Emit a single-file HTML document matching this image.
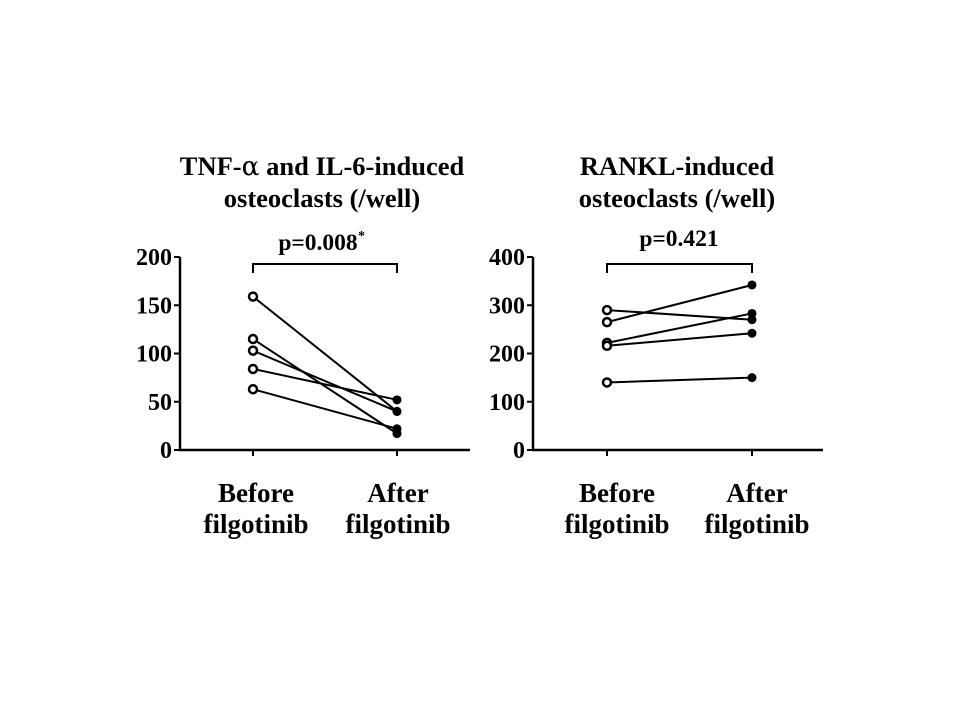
<!DOCTYPE html>
<html><head><meta charset="utf-8"><style>
body{margin:0;background:#fff;width:960px;height:720px;overflow:hidden}
svg text{font-family:"Liberation Serif",serif;font-weight:bold;fill:#000}
</style></head><body>
<svg id="c" width="960" height="720"></svg>
<script>
const leftTicks=[0,50,100,150,200];
const leftBefore=[159,115,103,84,63];
const leftAfter=[40,17,40,52,22];
const rightTicks=[0,100,200,300,400];
const rightBefore=[290,265,222,216,140];
const rightAfter=[270,342,283,242,150];
const NS="http://www.w3.org/2000/svg";
const svg=document.getElementById('c');
function el(t,a,txt){const e=document.createElementNS(NS,t);for(const k in a)e.setAttribute(k,a[k]);if(txt!==undefined)e.textContent=txt;svg.appendChild(e);return e;}
function panel(p){
  const y=v=>450-v/p.max*193;
  const ax=el('line',{x1:p.ax,y1:257,x2:p.ax,y2:451,stroke:'#000','stroke-width':2.5});
  
  const xa=el('line',{x1:p.ax-1,y1:450,x2:p.ax+290,y2:450,stroke:'#000','stroke-width':2.5});
  
  p.ticks.forEach(t=>{
    const tk=el('line',{x1:p.ax-6,y1:y(t),x2:p.ax,y2:y(t),stroke:'#000','stroke-width':2});
    
    const tl=el('text',{x:p.ax-8,y:y(t)+8,'text-anchor':'end','font-size':24},String(t));
    
  });
  [p.x1,p.x2].forEach(x=>{const tk=el('line',{x1:x,y1:450,x2:x,y2:456,stroke:'#000','stroke-width':2});
    });
  const br=el('path',{d:`M${p.x1} 273V264H${p.x2}V273`,fill:'none',stroke:'#000','stroke-width':2});
  
  p.before.forEach((b,i)=>{
    const a=p.after[i];
    const ln=el('line',{x1:p.x1,y1:y(b),x2:p.x2,y2:y(a),stroke:'#000','stroke-width':2});
    
    const c1=el('circle',{cx:p.x1,cy:y(b),r:4,fill:'#fff',stroke:'#000','stroke-width':2.5});
    
    const c2=el('circle',{cx:p.x2,cy:y(a),r:4.5,fill:'#000'});
    
  });
}
panel({id:'left',ax:180,x1:253,x2:397,max:200,ticks:leftTicks,before:leftBefore,after:leftAfter});
panel({id:'right',ax:533,x1:607,x2:752,max:400,ticks:rightTicks,before:rightBefore,after:rightAfter});
</script>
<svg width="960" height="720" style="position:absolute;left:0;top:0">
<text x="322" y="175" text-anchor="middle" font-size="26.5">TNF-<tspan font-family="DejaVu Serif" font-weight="normal">α</tspan> and IL-6-induced</text>
<text x="322" y="207" text-anchor="middle" font-size="26.5">osteoclasts (/well)</text>
<text x="677" y="175" text-anchor="middle" font-size="26.5">RANKL-induced</text>
<text x="677" y="207" text-anchor="middle" font-size="26.5">osteoclasts (/well)</text>
<text x="318" y="250" text-anchor="middle" font-size="23.5">p=0.008</text>
<text x="358" y="240" font-size="14">*</text>
<text x="679" y="246" text-anchor="middle" font-size="23.5">p=0.421</text>
<text x="256" y="502" text-anchor="middle" font-size="27">Before</text>
<text x="256" y="533" text-anchor="middle" font-size="27">filgotinib</text>
<text x="398" y="502" text-anchor="middle" font-size="27">After</text>
<text x="398" y="533" text-anchor="middle" font-size="27">filgotinib</text>
<text x="617" y="502" text-anchor="middle" font-size="27">Before</text>
<text x="617" y="533" text-anchor="middle" font-size="27">filgotinib</text>
<text x="757" y="502" text-anchor="middle" font-size="27">After</text>
<text x="757" y="533" text-anchor="middle" font-size="27">filgotinib</text>
</svg>
</body></html>
